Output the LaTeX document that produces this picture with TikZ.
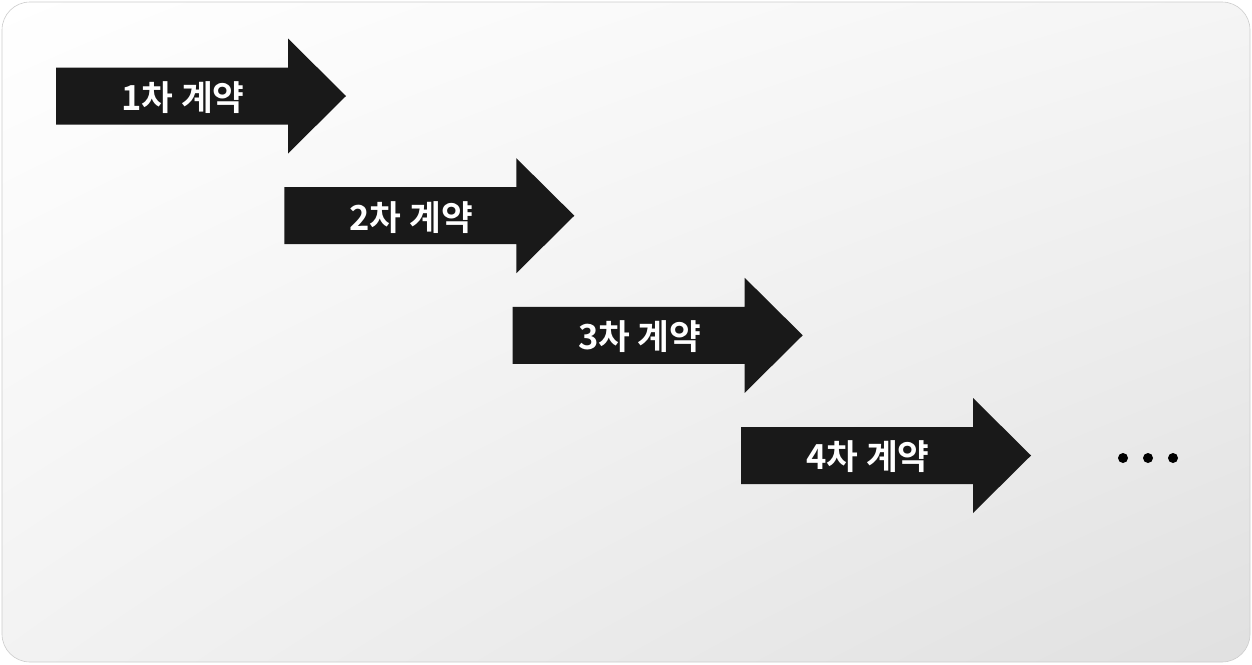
\documentclass[tikz,border=0pt]{standalone}
\usepackage{fontspec}
\usetikzlibrary{shadings}
\newfontfamily\kr{Noto Sans CJK KR}[BoldFont={Noto Sans CJK KR Bold}]
\begin{document}
\begin{tikzpicture}[x=1pt,y=-1pt,
  arrowfill/.style={fill=black!90},
  steplabel/.style={text=white,font=\kr\bfseries\fontsize{34.5}{40}\selectfont,inner sep=0pt},
  dotmark/.style={circle,fill=black,inner sep=0pt,minimum size=10pt}]
\useasboundingbox (0,0) rectangle (1252,664);
\shade[rounded corners=28pt,upper left=white,upper right=black!4,lower left=black!5,lower right=black!12]
  (2,2) rectangle (1250,662);
\draw[rounded corners=28pt,draw=black!20,line width=0.6pt] (2,2) rectangle (1250,662);
\foreach \i/\x/\y in {1/56/96, 2/284.3/215.7, 3/512.7/335.3, 4/741/455.5} {
  \fill[arrowfill] (\x,\y-28.5) -- (\x+232,\y-28.5) -- (\x+232,\y-57.5) -- (\x+290,\y)
     -- (\x+232,\y+57.5) -- (\x+232,\y+28.5) -- (\x,\y+28.5) -- cycle;
  \node[steplabel] (a\i) at (\x+127,\y+1.5) {{\i}차 계약};
}
\node[dotmark] (d1) at (1123,458) {};
\node[dotmark] (d2) at (1148,458) {};
\node[dotmark] (d3) at (1173,458) {};
\end{tikzpicture}
\end{document}
